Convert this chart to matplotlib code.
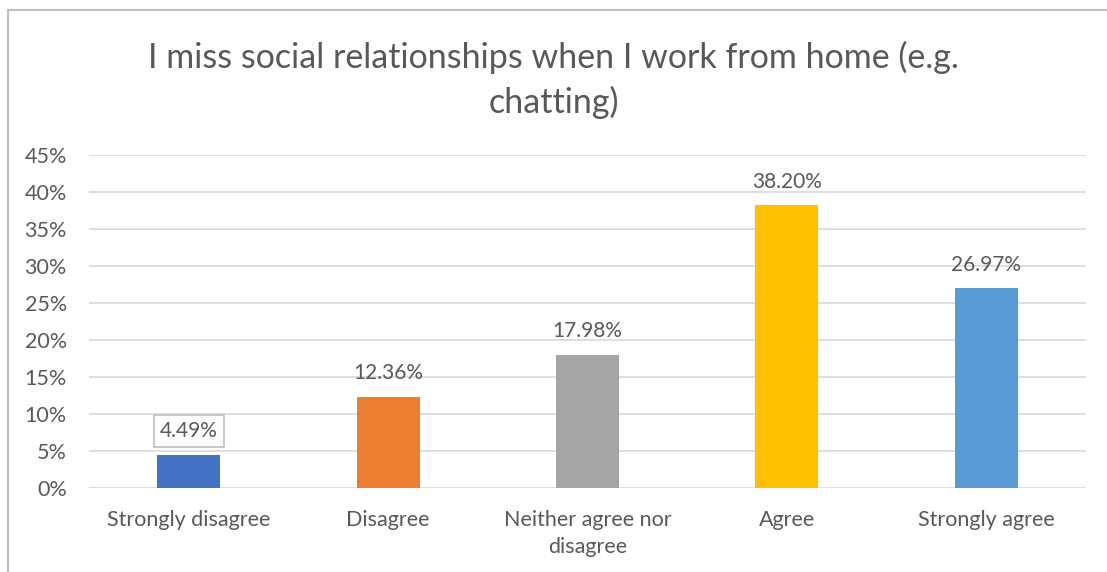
import matplotlib.pyplot as plt
from matplotlib.lines import Line2D

categories = ["Strongly disagree", "Disagree", "Neither agree nor\ndisagree", "Agree", "Strongly agree"]
values = [4.49, 12.36, 17.98, 38.20, 26.97]
colors = ["#4472C4", "#ED7D31", "#A5A5A5", "#FFC000", "#5B9BD5"]
yticks = [0, 5, 10, 15, 20, 25, 30, 35, 40, 45]

text_grey = "#595959"
plt.rcParams['font.family'] = ['Lato', 'DejaVu Sans']

fig = plt.figure(figsize=(11.07, 5.72), dpi=100)
ax = fig.add_axes([89 / 1107, 1 - 488 / 572, (1086 - 89) / 1107, (488 - 155) / 572])

x = range(len(categories))
ax.bar(x, values, width=0.316, color=colors, zorder=3)

for i, v in enumerate(values):
    box = None
    if i == 0:
        box = dict(boxstyle="square,pad=0.3", fc="white", ec="#BFBFBF", lw=1.2)
    ax.annotate(f"{v:.2f}%", (i, v), xytext=(0, 17), textcoords="offset points",
                ha="center", va="center", fontsize=15, color=text_grey, bbox=box)

ax.set_xlim(-0.5, len(categories) - 0.5)
ax.set_ylim(0, 45)
ax.set_yticks(yticks)
ax.set_yticklabels([f"{t}%" for t in yticks])
ax.set_xticks(list(x))
ax.set_xticklabels(categories, linespacing=1.45)
ax.tick_params(axis="both", length=0, labelsize=15.5, colors=text_grey)
ax.tick_params(axis="y", pad=16)
ax.tick_params(axis="x", pad=16)
ax.grid(axis="y", color="#D9D9D9", lw=1.2, zorder=0)
for s in ax.spines.values():
    s.set_visible(False)

fig.text(0.5, 1 - 80 / 572, "I miss social relationships when I work from home (e.g.\nchatting)",
         ha="center", va="center", fontsize=24.5, color=text_grey, linespacing=1.45)

# chart frame, only top and left edges
fig.add_artist(Line2D([8 / 1107, 8 / 1107], [0, 1 - 10 / 572], transform=fig.transFigure, color="#BFBFBF", lw=1.5))
fig.add_artist(Line2D([8 / 1107, 1], [1 - 10 / 572, 1 - 10 / 572], transform=fig.transFigure, color="#BFBFBF", lw=1.5))

fig.savefig("out.png", dpi=100)
